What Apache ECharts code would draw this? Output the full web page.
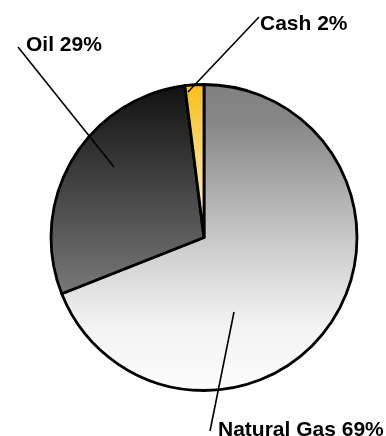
<!DOCTYPE html>
<html><head><meta charset="utf-8">
<script src="https://cdn.jsdelivr.net/npm/echarts@6/dist/echarts.min.js"></script>
<style>html,body{margin:0;padding:0;background:#fff}#c{width:386px;height:436px}</style>
</head><body><div id="c"></div>
<script>
const categories = ['Natural Gas', 'Oil', 'Cash'];
const values = [69, 29, 2];
const percentLabels = ['69%', '29%', '2%'];

const CX = 204, CY = 237.5, R = 153;
function grad(y0, y1, stops) {
  return new echarts.graphic.LinearGradient(0, y0, 0, y1,
    stops.map(s => ({offset: s[0], color: s[1]})), true);
}
const fills = [
  grad(CY - R, CY + R, [[0, '#808080'], [0.12, '#868686'], [0.5, '#c8c8c8'], [0.78, '#f2f2f2'], [1, '#fdfdfd']]),
  grad(CY - R, CY + 65, [[0, '#111111'], [1, '#7c7c7c']]),
  grad(CY - R, CY, [[0, '#f6c01a'], [1, '#fff3da']])
];
// label placement: [textX, textY, lineStartX, lineStartY, lineEndX, lineEndY]
const labelPlace = [
  [218, 430, 234, 312, 210, 431],
  [26, 45, 114, 167, 18, 47],
  [260, 24, 188, 92, 259, 17]
];

const chart = echarts.init(document.getElementById('c'), null, {renderer: 'canvas'});
chart.setOption({
  animation: false,
  backgroundColor: '#ffffff',
  graphic: labelPlace.map(L => ({
    type: 'line', z: 100, silent: true,
    shape: {x1: L[2], y1: L[3], x2: L[4], y2: L[5]},
    style: {stroke: '#000', lineWidth: 1.6}
  })),
  series: [{
    type: 'pie',
    center: [CX, CY],
    radius: R,
    startAngle: 90,
    clockwise: true,
    avoidLabelOverlap: false,
    data: categories.map((c, i) => ({
      name: c, value: values[i],
      itemStyle: {color: fills[i]}
    })),
    itemStyle: {borderColor: '#000', borderWidth: 2.8},
    label: {
      show: true,
      position: 'outside',
      formatter: p => categories[p.dataIndex] + ' ' + percentLabels[p.dataIndex],
      fontFamily: 'Liberation Sans, Arial, sans-serif',
      fontWeight: 'bold',
      fontSize: 21,
      color: '#000'
    },
    labelLine: {show: false},
    emphasis: {disabled: true},
    labelLayout: function (p) {
      const L = labelPlace[p.dataIndex];
      return {x: L[0], y: L[1], align: 'left', verticalAlign: 'middle'};
    }
  }]
});
</script></body></html>
